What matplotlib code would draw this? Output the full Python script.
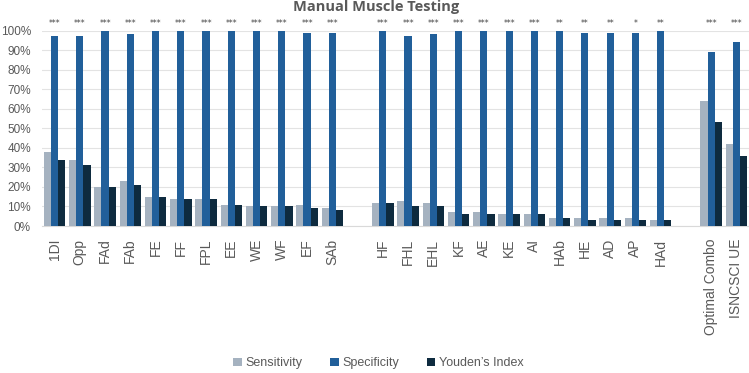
import matplotlib
matplotlib.use("Agg")
import matplotlib.pyplot as plt
import numpy as np

plt.rcParams['font.family'] = ['Liberation Sans', 'DejaVu Sans']

categories = ["1DI", "Opp", "FAd", "FAb", "FE", "FF", "FPL", "EE", "WE", "WF", "EF", "SAb",
              "HF", "FHL", "EHL", "KF", "AE", "KE", "AI", "HAb", "HE", "AD", "AP", "HAd",
              "Optimal Combo", "ISNCSCI UE"]
sensitivity = [38, 34, 20, 23, 15, 14, 14, 11, 10, 10, 11, 9,
               12, 13, 12, 7, 7, 6, 6, 4, 4, 4, 4, 3,
               64, 42]
specificity = [97, 97, 100, 98, 100, 100, 100, 100, 100, 100, 99, 99,
               100, 97, 98, 100, 100, 100, 100, 100, 99, 99, 99, 100,
               89, 94]
youden = [34, 31, 20, 21, 15, 14, 14, 11, 10, 10, 9, 8,
          12, 10, 10, 6, 6, 6, 6, 4, 3, 3, 3, 3,
          53, 36]
stars = ["***"] * 12 + ["***"] * 7 + ["**", "**", "**", "*", "**"] + ["***", "***"]
group_sizes = [12, 12, 2]

# slot positions with one empty slot between groups
pos = []
start = 0
for g in group_sizes:
    pos.extend(range(start, start + g))
    start += g + 1
pos = np.array(pos, dtype=float)

c_sens = "#A5B2C0"
c_spec = "#215F9A"
c_you = "#0E2B3F"
txt = "#595959"

fig = plt.figure(figsize=(7.49, 3.73), dpi=100)
ax = fig.add_axes([0.056, 0.394, 0.944, 0.524])

w = 0.285
ax.bar(pos - w, sensitivity, w, color=c_sens, label="Sensitivity", zorder=3)
ax.bar(pos, specificity, w, color=c_spec, label="Specificity", zorder=3)
ax.bar(pos + w, youden, w, color=c_you, label="Youden\u2019s Index", zorder=3)

for x, s in zip(pos, stars):
    ax.text(x, 101.5, s, ha="center", va="bottom", fontsize=5.5, color="#404040",
            family="DejaVu Sans", clip_on=False)

ax.set_xlim(-0.5, pos[-1] + 0.5)
ax.set_ylim(0, 100)
ax.set_yticks(np.arange(0, 101, 10))
ax.set_yticklabels([f"{v}%" for v in range(0, 101, 10)], fontsize=8.5, color=txt)
ax.set_xticks(pos)
ax.set_xticklabels(categories, rotation=90, fontsize=10, color=txt)
ax.tick_params(axis="both", length=0)
ax.tick_params(axis="x", pad=9)
ax.tick_params(axis="y", pad=8)
ax.grid(axis="y", color="#E3E3E3", linewidth=0.8, zorder=0)
for sp in ["top", "right", "left"]:
    ax.spines[sp].set_visible(False)
ax.spines["bottom"].set_color("#D9D9D9")
ax.spines["bottom"].set_linewidth(0.8)

fig.text(0.502, 0.982, "Manual Muscle Testing", ha="center", va="center",
         fontsize=10.5, fontweight="bold", color=txt, family=["Open Sans", "DejaVu Sans"])

fig.legend(loc="center", bbox_to_anchor=(0.505, 0.026), ncol=3, frameon=False,
           fontsize=9, handlelength=0.7, handleheight=0.7, handletextpad=0.3,
           columnspacing=2.2, labelcolor=txt)

fig.savefig("out.png", dpi=100)
